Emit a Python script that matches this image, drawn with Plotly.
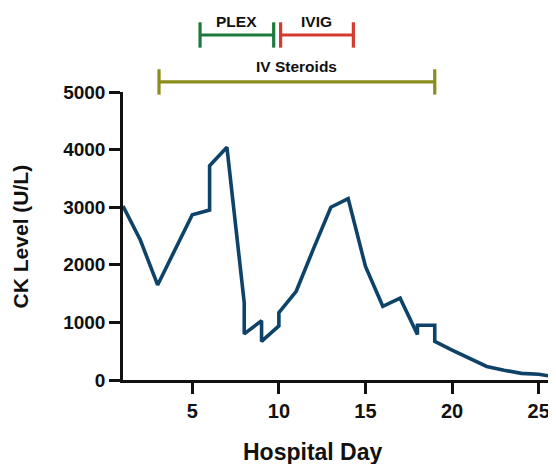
import plotly.graph_objects as go

# CK level series (hospital day, U/L); repeated days = two draws on the same day
days = [1, 2, 3, 4, 5, 6, 6, 7, 8, 8, 9, 9, 10, 10, 11, 12, 13, 14, 15, 16, 17, 18, 18, 19, 19, 20, 21, 22, 23, 24, 25, 26]
ck = [3020, 2430, 1650, 2270, 2870, 2950, 3720, 4040, 1340, 800, 1030, 670, 940, 1170, 1540, 2280, 3000, 3150, 1970, 1280, 1420, 790, 950, 950, 670, 520, 375, 235, 170, 115, 100, 50]

# Treatments: name, start day, end day, colour
tx_names = ["PLEX", "IVIG", "IV Steroids"]
tx_start = [5.45, 10.1, 3.08]
tx_end = [9.7, 14.3, 19.0]
tx_colors = ["#1d7a3c", "#d63a2e", "#8c8c1c"]
tx_row = [1.198, 1.198, 1.035]   # paper y of each bar
tx_label_y = [1.245, 1.245, 1.09]

x_ticks = [5, 10, 15, 20, 25]
y_ticks = [0, 1000, 2000, 3000, 4000, 5000]

FONT = "Liberation Sans, Arial, Helvetica, sans-serif"

fig = go.Figure()
fig.add_trace(go.Scatter(
    x=days, y=ck, mode="lines",
    line=dict(color="#0e4369", width=3.6),
    showlegend=False, hoverinfo="skip"))

shapes = []
annotations = []
cap = 0.044
for name, s, e, c, yr, ly in zip(tx_names, tx_start, tx_end, tx_colors, tx_row, tx_label_y):
    shapes.append(dict(type="line", xref="x", yref="paper", x0=s, x1=e, y0=yr, y1=yr,
                       line=dict(color=c, width=3.2)))
    for xx in (s, e):
        shapes.append(dict(type="line", xref="x", yref="paper", x0=xx, x1=xx,
                           y0=yr - cap, y1=yr + cap, line=dict(color=c, width=3.2)))
    annotations.append(dict(x=(s + e) / 2, y=ly, xref="x", yref="paper",
                            text="<b>%s</b>" % name, showarrow=False,
                            font=dict(family=FONT, size=15.5, color="#111111"),
                            xanchor="center", yanchor="middle"))

annotations.append(dict(x=0.439, y=-0.25, xref="paper", yref="paper",
                        text="<b>Hospital Day</b>", showarrow=False,
                        font=dict(family=FONT, size=23, color="#111111"),
                        xanchor="center", yanchor="middle"))
annotations.append(dict(x=-0.237, y=0.5, xref="paper", yref="paper",
                        text="<b>CK Level (U/L)</b>", showarrow=False, textangle=-90,
                        font=dict(family=FONT, size=21, color="#111111"),
                        xanchor="center", yanchor="middle"))

fig.update_layout(
    width=548, height=456,
    margin=dict(l=115, r=0, t=84, b=84),
    paper_bgcolor="white", plot_bgcolor="white",
    shapes=shapes, annotations=annotations,
    xaxis=dict(range=[1, 26], tickvals=x_ticks, ticks="outside", ticklen=11, tickwidth=2.5,
               tickcolor="#111111", showline=True, linecolor="#111111", linewidth=2.5,
               showgrid=False, zeroline=False,
               tickfont=dict(family=FONT, size=20, color="#111111", weight="bold")),
    yaxis=dict(range=[0, 5000], tickvals=y_ticks, ticks="outside", ticklen=11, tickwidth=2.5,
               tickcolor="#111111", showline=True, linecolor="#111111", linewidth=2.5,
               showgrid=False, zeroline=False,
               tickfont=dict(family=FONT, size=19, color="#111111", weight="bold")),
)

fig.write_html("out.html")
